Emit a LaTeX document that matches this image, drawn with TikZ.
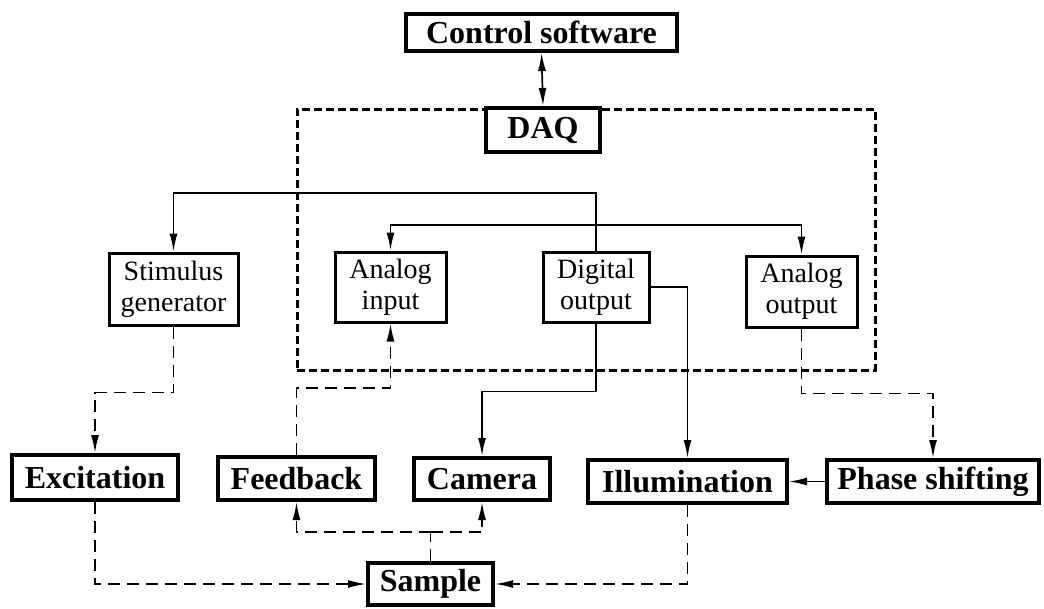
\documentclass[tikz,border=0pt]{standalone}
\usepackage{fontspec}
\setmainfont{Liberation Serif}
\usetikzlibrary{arrows.meta}
\begin{document}
\begin{tikzpicture}[x=1pt,y=-1pt,
  bigbox/.style={draw, line width=4pt, fill=white, inner sep=0pt, font=\bfseries\fontsize{32}{36}\selectfont},
  smallbox/.style={draw, line width=3pt, fill=white, inner sep=0pt, align=center, font=\fontsize{28}{31}\selectfont},
  dbox/.style={draw, line width=3pt, dash pattern=on 8pt off 4pt, inner sep=0pt},
  sline/.style={line width=1.7pt},
  dline/.style={line width=1.7pt, dash pattern=on 12pt off 7pt},
  tip/.style={-{Latex[length=18pt,width=8pt]}}
]
\useasboundingbox (0,0) rectangle (1044,608);
\node[dbox, minimum width=578pt, minimum height=261pt] (daqbox) at (586,239.5) {};
\node[bigbox, minimum width=271pt, minimum height=37pt] (ctrl) at (541.5,32.5) {Control software};
\node[bigbox, minimum width=114pt, minimum height=44pt] (daq) at (543,130) {DAQ};
\node[smallbox, minimum width=129pt, minimum height=72pt] (stim) at (173.5,289) {Stimulus\\generator};
\node[smallbox, minimum width=111pt, minimum height=70pt] (ain) at (390.5,287) {Analog\\input};
\node[smallbox, minimum width=106pt, minimum height=70pt] (dout) at (596,287) {Digital\\output};
\node[smallbox, minimum width=111pt, minimum height=71pt] (aout) at (801.5,291.5) {Analog\\output};
\node[bigbox, minimum width=166pt, minimum height=45pt] (exc) at (95,477.5) {Excitation};
\node[bigbox, minimum width=157pt, minimum height=43pt] (fb) at (296.5,478.5) {Feedback};
\node[bigbox, minimum width=136pt, minimum height=42pt] (cam) at (482,479) {Camera};
\node[bigbox, minimum width=199pt, minimum height=43pt] (ill) at (687.5,481.5) {Illumination};
\node[bigbox, minimum width=212pt, minimum height=43pt] (phase) at (933,481.5) {Phase shifting};
\node[bigbox, minimum width=125pt, minimum height=42pt] (sample) at (430.5,584) {Sample};
\coordinate (bus) at (596,225);
\coordinate (sj) at (430.5,532);
% connectors
\draw[sline, {Latex[length=18pt,width=8pt]}-{Latex[length=18pt,width=8pt]}] (ctrl.south) -- (daq.north);
\draw[sline, tip] (dout.north) -- (596,193) -| (stim.north);
\draw[sline, tip] (bus) -| (ain.north);
\draw[sline, tip] (bus) -| (aout.north);
\draw[dline, tip] (stim.south) -- ++(0,66) -| (exc.north);
\draw[dline, tip] (fb.north) -- ++(0,-67) -| (ain.south);
\draw[sline, tip] (dout.south) -- ++(0,68) -| (cam.north);
\draw[sline, tip] (dout.east) -| (ill.north);
\draw[dline, tip] (aout.south) -- ++(0,65) -| (phase.north);
\draw[sline, tip] (phase.west) -- (ill.east);
\draw[dline, tip] (exc.south) |- (sample.west);
\draw[dline, tip] (ill.south) |- (sample.east);
\draw[dline] (sample.north) -- (sj);
\draw[dline, tip] (sj) -| (fb.south);
\draw[dline, tip] (sj) -| (cam.south);
\end{tikzpicture}
\end{document}
